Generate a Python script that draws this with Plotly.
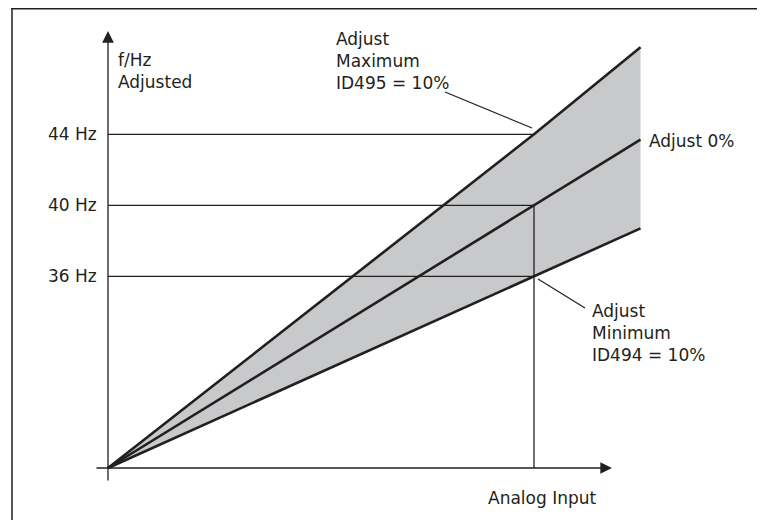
import plotly.graph_objects as go

# ---- data ----
input_pct = [0, 80, 100]            # Analog input, % (80% = reference point)
f_max = [25.2, 44.0, 48.9]          # Adjust Maximum (ID495 = 10%)
f_nom = [25.2, 40.0, 43.7]          # Adjust 0%
f_min = [25.2, 36.0, 38.7]          # Adjust Minimum (ID494 = 10%)
ref_input = 80
ref_freqs = [44, 40, 36]
ref_labels = ["44 Hz", "40 Hz", "36 Hz"]
f_origin = 25.2

# ---- layout constants ----
PAGE_OFF = 8               # default page margin around the figure
W, H = 765 - PAGE_OFF, 520 - PAGE_OFF
OX, OY = 108, 468          # origin in page pixels
PX_PER_PCT = 5.325
PX_PER_HZ = 17.75
INK = "#231f20"
GREY = "#c8c9cb"
FONT = "DejaVu Sans"
FS = 17

def dx(px):
    return (px - OX) / PX_PER_PCT

def dy(py):
    return f_origin + (OY - py) / PX_PER_HZ

def pxp(px):
    return (px - PAGE_OFF) / W

def pyp(py):
    return 1 - (py - PAGE_OFF) / H

fig = go.Figure()

# shaded band between max and min
fig.add_trace(go.Scatter(
    x=input_pct + input_pct[::-1],
    y=f_max + f_min[::-1],
    fill="toself", fillcolor=GREY, line=dict(width=0),
    mode="lines", hoverinfo="skip", showlegend=False))

# thin reference lines
for f in ref_freqs:
    fig.add_trace(go.Scatter(x=[0, ref_input], y=[f, f], mode="lines",
                             line=dict(color=INK, width=1.3),
                             hoverinfo="skip", showlegend=False))
fig.add_trace(go.Scatter(x=[ref_input, ref_input], y=[f_origin, ref_freqs[1]],
                         mode="lines", line=dict(color=INK, width=1.3),
                         hoverinfo="skip", showlegend=False))

# main lines
for ys in (f_max, f_nom, f_min):
    fig.add_trace(go.Scatter(x=input_pct, y=ys, mode="lines",
                             line=dict(color=INK, width=2.6),
                             hoverinfo="skip", showlegend=False))

annotations = []
# axes with arrows
annotations.append(dict(x=0, y=dy(31), ax=0, ay=dy(482), xref="x", yref="y",
                        axref="x", ayref="y", showarrow=True, arrowhead=2,
                        arrowsize=1.8, arrowwidth=1.3, arrowcolor=INK,
                        standoff=0, startstandoff=0, text=""))
annotations.append(dict(x=dx(612), y=f_origin, ax=dx(95), ay=f_origin,
                        xref="x", yref="y", axref="x", ayref="y",
                        showarrow=True, arrowhead=2, arrowsize=1.8,
                        arrowwidth=1.3, arrowcolor=INK, standoff=0, text=""))

# leader lines and frame
shapes = [
    dict(type="line", xref="x", yref="y", x0=dx(445), y0=dy(92), x1=dx(532),
         y1=dy(128), line=dict(color=INK, width=1.2)),
    dict(type="line", xref="x", yref="y", x0=dx(538), y0=dy(279), x1=dx(585),
         y1=dy(308), line=dict(color=INK, width=1.2)),
    dict(type="line", xref="paper", yref="paper", x0=pxp(11.3), y0=pyp(8.8),
         x1=1.3, y1=pyp(8.8), line=dict(color=INK, width=1.5)),
    dict(type="line", xref="paper", yref="paper", x0=pxp(12), y0=pyp(8.1),
         x1=pxp(12), y1=-0.3, line=dict(color=INK, width=1.5)),
]

# tick labels
for f, lab in zip(ref_freqs, ref_labels):
    annotations.append(dict(x=pxp(99), y=f, xref="paper", yref="y", text=lab,
                            showarrow=False, xanchor="right", yanchor="middle"))

def txt(px, py, s, xanchor="left"):
    return dict(x=pxp(px), y=pyp(py), xref="paper", yref="paper", text=s,
                showarrow=False, xanchor=xanchor, yanchor="middle", align="left")

annotations += [
    txt(116, 71, "f/Hz<br>Adjusted"),
    txt(334, 61, "Adjust<br>Maximum<br>ID495 = 10%"),
    txt(647, 141, "Adjust 0%"),
    txt(590, 333, "Adjust<br>Minimum<br>ID494 = 10%"),
    txt(486, 498, "Analog Input"),
]

fig.update_layout(
    width=W, height=H, margin=dict(l=0, r=0, t=0, b=0),
    paper_bgcolor="white", plot_bgcolor="white",
    font=dict(family=FONT, size=FS, color=INK),
    xaxis=dict(range=[dx(PAGE_OFF), dx(PAGE_OFF + W)], visible=False, fixedrange=True),
    yaxis=dict(range=[dy(PAGE_OFF + H), dy(PAGE_OFF)], visible=False, fixedrange=True),
    shapes=shapes, annotations=annotations, showlegend=False,
)

fig.write_html("out.html")
